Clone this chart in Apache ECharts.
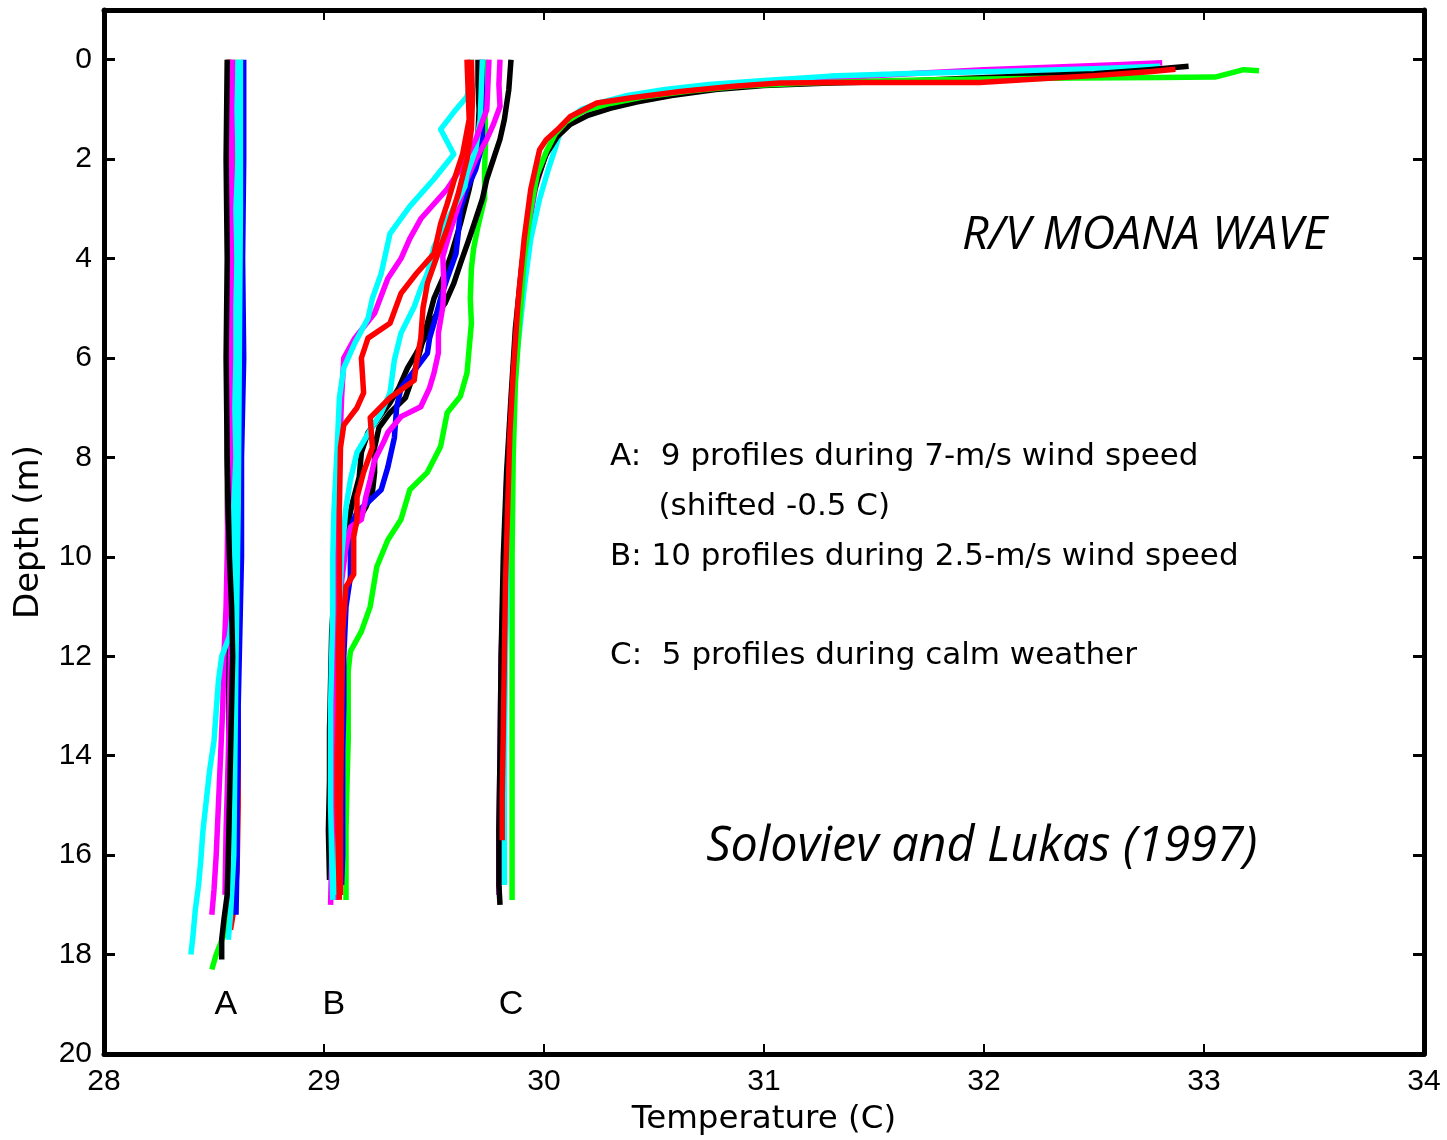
<!DOCTYPE html>
<html>
<head>
<meta charset="utf-8">
<script src="https://cdn.jsdelivr.net/npm/echarts@6/dist/echarts.min.js"></script>
<style>
html,body{margin:0;padding:0;background:#fff;}
#chart{width:1447px;height:1140px;}
</style>
</head>
<body>
<div id="chart"></div>
<script>
// ---- axis ticks ----
const xTicks = [28, 29, 30, 31, 32, 33, 34];
const yTicks = [0, 2, 4, 6, 8, 10, 12, 14, 16, 18, 20];

// ---- profile colours ----
const colors = {k: '#000000', b: '#0000ff', g: '#00ff00', r: '#ff0000', c: '#00ffff', m: '#ff00ff'};

// ---- Group A: 9 profiles, 7 m/s wind (shifted -0.5 C); [temperature, depth] ----
const A_black2 = [[28.565,0],[28.565,4],[28.56,8],[28.565,12],[28.57,15],[28.565,16.5],[28.56,17.0]];
const A_green = [[28.60,0],[28.60,4],[28.605,8],[28.60,11],[28.60,13],[28.595,15],[28.59,16.3],[28.57,17.1],[28.545,17.6],[28.51,18.0],[28.49,18.3]];
const A_red = [[28.57,0],[28.57,2],[28.565,4],[28.57,6],[28.575,8],[28.585,10],[28.60,12],[28.61,13.5],[28.61,15],[28.605,16.3],[28.59,17.1],[28.575,17.5]];
const A_blue = [[28.635,0],[28.635,2],[28.63,4],[28.635,6],[28.625,8],[28.625,10],[28.62,11],[28.615,12],[28.61,13],[28.61,14],[28.605,15],[28.605,16],[28.60,17.2]];
const A_cyan2 = [[28.62,0],[28.62,3],[28.615,6],[28.61,9],[28.60,12],[28.595,14],[28.59,16],[28.575,17.2],[28.565,17.7]];
const A_magenta2 = [[28.585,0],[28.58,4],[28.58,8],[28.575,12],[28.565,14],[28.555,15.5],[28.55,16.8]];
const A_magenta = [[28.58,0],[28.575,1],[28.58,2],[28.57,3],[28.575,4],[28.57,5],[28.57,6],[28.565,7],[28.57,8],[28.565,9],[28.56,10],[28.555,11],[28.545,12],[28.54,13],[28.53,14],[28.52,15],[28.51,16],[28.50,16.7],[28.49,17.2]];
const A_cyan = [[28.61,0],[28.605,1],[28.61,2],[28.60,3],[28.605,4],[28.60,5],[28.60,6],[28.595,7],[28.60,8],[28.59,9],[28.59,10],[28.585,11],[28.57,11.6],[28.535,12],[28.52,12.5],[28.51,13.1],[28.50,13.7],[28.48,14.3],[28.465,14.9],[28.45,15.5],[28.44,16.1],[28.43,16.6],[28.415,17.1],[28.405,17.6],[28.395,18.0]];
const A_black = [[28.56,0],[28.555,2],[28.56,4],[28.555,6],[28.56,8],[28.565,9],[28.57,10],[28.58,11],[28.585,12],[28.58,13],[28.575,14],[28.57,15],[28.565,16],[28.56,16.8],[28.545,17.3],[28.535,17.7],[28.535,18.1]];

// ---- Group B: 10 profiles, 2.5 m/s wind ----
const B_green = [[29.73,0],[29.73,0.8],[29.735,1.6],[29.73,2.2],[29.73,2.8],[29.70,3.35],[29.68,3.8],[29.67,4.2],[29.665,4.8],[29.67,5.3],[29.66,5.8],[29.65,6.3],[29.62,6.77],[29.56,7.1],[29.53,7.78],[29.47,8.3],[29.39,8.65],[29.35,9.25],[29.29,9.66],[29.24,10.2],[29.21,11.0],[29.17,11.5],[29.12,11.9],[29.11,12.3],[29.11,13],[29.11,13.7],[29.105,14.5],[29.10,15.5],[29.10,16.3],[29.10,16.9]];
const B_black1 = [[29.85,0],[29.845,0.3],[29.84,0.6],[29.83,0.9],[29.82,1.2],[29.80,1.6],[29.77,2.0],[29.74,2.4],[29.72,2.8],[29.69,3.2],[29.66,3.6],[29.62,4.1],[29.59,4.5],[29.55,4.9],[29.50,5.2],[29.47,5.5],[29.42,5.9],[29.38,6.2],[29.34,6.6],[29.30,6.9],[29.25,7.2],[29.20,7.5],[29.17,7.9],[29.16,8.4],[29.13,8.9],[29.11,9.3],[29.08,9.8],[29.05,10.5],[29.035,11.5],[29.03,12.5],[29.025,13.5],[29.025,14.5],[29.02,15.5],[29.025,16.5]];
const B_black2 = [[29.70,0],[29.70,0.5],[29.705,1.0],[29.70,1.5],[29.69,2.0],[29.66,2.6],[29.62,3.3],[29.58,3.9],[29.54,4.4],[29.50,4.8],[29.47,5.3],[29.44,5.8],[29.41,6.3],[29.37,6.8],[29.30,7.1],[29.25,7.4],[29.23,7.8],[29.23,8.3],[29.22,8.7],[29.19,9.0],[29.15,9.3],[29.10,9.8],[29.07,10.5],[29.05,11.5],[29.04,13],[29.035,14.5],[29.03,16],[29.03,16.4]];
const B_blue = [[29.72,0],[29.72,0.6],[29.72,1.2],[29.72,1.7],[29.69,2.2],[29.65,2.6],[29.62,3.0],[29.61,3.5],[29.60,3.9],[29.56,4.4],[29.53,4.8],[29.50,5.3],[29.48,5.6],[29.47,5.9],[29.42,6.2],[29.35,6.6],[29.33,7.0],[29.32,7.6],[29.29,8.2],[29.26,8.65],[29.20,8.9],[29.15,9.1],[29.13,9.3],[29.12,10.0],[29.12,10.4],[29.10,11],[29.09,12],[29.09,13],[29.085,14],[29.085,15],[29.085,16],[29.08,16.6]];
const B_magenta2 = [[29.80,0],[29.795,0.5],[29.80,0.94],[29.77,1.3],[29.74,1.6],[29.69,2.0],[29.65,2.4],[29.61,2.95],[29.57,3.5],[29.54,3.96],[29.545,4.5],[29.54,4.97],[29.52,5.5],[29.52,5.9],[29.50,6.3],[29.48,6.6],[29.44,6.98],[29.35,7.18],[29.29,7.5],[29.27,7.7],[29.23,8.05],[29.21,8.45],[29.19,8.8],[29.17,9.25],[29.12,9.4],[29.10,9.8],[29.08,10.5],[29.07,12],[29.06,14],[29.05,16],[29.05,16.9]];
const B_cyan2 = [[29.72,0],[29.715,0.6],[29.71,1.2],[29.69,1.8],[29.65,2.3],[29.64,2.55],[29.575,3.1],[29.50,3.76],[29.47,4.3],[29.44,4.6],[29.41,4.97],[29.35,5.5],[29.32,6.04],[29.30,6.7],[29.26,7.1],[29.21,7.45],[29.15,7.9],[29.12,8.45],[29.10,9],[29.08,10],[29.07,11],[29.06,12],[29.055,13],[29.05,14],[29.05,15],[29.05,16],[29.045,16.8]];
const B_magenta1 = [[29.75,0],[29.745,0.5],[29.74,1.0],[29.69,1.6],[29.62,2.2],[29.56,2.6],[29.44,3.2],[29.39,3.6],[29.35,4.0],[29.29,4.4],[29.23,5.1],[29.14,5.6],[29.09,6.0],[29.08,6.8],[29.07,8],[29.06,9],[29.055,10],[29.05,12],[29.045,13.5],[29.04,15],[29.035,16],[29.03,17.0]];
const B_cyan1 = [[29.67,0],[29.665,0.4],[29.65,0.74],[29.60,1.0],[29.53,1.4],[29.59,1.9],[29.50,2.4],[29.39,2.95],[29.30,3.5],[29.28,3.9],[29.26,4.3],[29.22,4.8],[29.20,5.2],[29.14,5.7],[29.09,6.2],[29.07,6.8],[29.06,7.8],[29.045,9.1],[29.04,10],[29.04,11.1],[29.035,12],[29.03,13],[29.03,14],[29.03,15],[29.035,16],[29.04,16.9]];
const B_red2 = [[29.67,0],[29.675,0.8],[29.67,1.4],[29.65,2.0],[29.61,2.7],[29.56,3.4],[29.51,4.0],[29.47,4.5],[29.45,5.0],[29.44,5.6],[29.42,6.1],[29.41,6.45],[29.30,6.8],[29.21,7.2],[29.22,7.8],[29.18,8.3],[29.15,8.8],[29.15,9.25],[29.135,9.6],[29.135,10.35],[29.10,10.6],[29.085,11.5],[29.08,13],[29.075,15],[29.075,16.8]];
const B_red1 = [[29.65,0],[29.655,0.6],[29.66,1.2],[29.63,1.9],[29.60,2.3],[29.56,2.9],[29.53,3.3],[29.50,3.9],[29.42,4.3],[29.35,4.7],[29.30,5.3],[29.20,5.6],[29.17,6.0],[29.18,6.7],[29.15,7.0],[29.09,7.35],[29.075,7.8],[29.07,9],[29.07,10],[29.07,11],[29.065,12],[29.065,13],[29.06,14],[29.06,15],[29.065,16],[29.07,16.9]];

// ---- Group C: 5 profiles, calm weather ----
const C_magenta = [[32.81,0.06],[32.6,0.1],[32.3,0.15],[32.0,0.2],[31.7,0.27],[31.4,0.35],[31.1,0.44],[30.85,0.53],[30.62,0.63],[30.42,0.76],[30.28,0.9],[30.17,1.05],[30.09,1.3],[30.04,1.6],[30.0,2.0],[29.96,2.6],[29.93,3.4],[29.90,4.4],[29.87,5.6],[29.85,7],[29.83,8.5],[29.82,10],[29.805,12],[29.80,14],[29.795,15.5],[29.795,16.8]];
const C_cyan = [[32.80,0.13],[32.5,0.18],[32.1,0.23],[31.7,0.27],[31.3,0.33],[31.0,0.42],[30.75,0.5],[30.55,0.6],[30.38,0.72],[30.26,0.86],[30.17,1.0],[30.11,1.2],[30.07,1.5],[30.05,1.8],[30.02,2.2],[29.98,2.8],[29.94,3.6],[29.91,4.6],[29.88,5.8],[29.86,7],[29.845,8.5],[29.835,10],[29.825,12],[29.82,14],[29.82,15.5],[29.82,16.6]];
const C_black = [[32.93,0.13],[32.75,0.2],[32.5,0.28],[32.2,0.33],[31.9,0.38],[31.6,0.44],[31.3,0.47],[31.0,0.52],[30.78,0.6],[30.58,0.72],[30.42,0.85],[30.3,0.98],[30.2,1.12],[30.12,1.3],[30.06,1.55],[30.01,1.9],[29.97,2.4],[29.93,3.1],[29.90,4.1],[29.87,5.4],[29.85,6.8],[29.83,8.3],[29.815,10],[29.805,12],[29.80,14],[29.795,15.5],[29.795,16.6],[29.80,17.0]];
const C_green = [[33.25,0.22],[33.18,0.2],[33.12,0.27],[33.05,0.35],[32.8,0.36],[32.4,0.37],[32.0,0.39],[31.6,0.42],[31.2,0.47],[30.9,0.53],[30.66,0.63],[30.45,0.75],[30.3,0.88],[30.18,1.03],[30.1,1.25],[30.05,1.5],[30.01,1.85],[29.97,2.3],[29.94,3.0],[29.91,4.0],[29.89,5.2],[29.87,6.5],[29.86,8],[29.855,10],[29.855,12],[29.855,14],[29.855,15.5],[29.855,16.9]];
const C_red = [[32.87,0.19],[32.75,0.24],[32.5,0.32],[32.2,0.4],[31.98,0.46],[31.7,0.46],[31.37,0.46],[31.07,0.47],[30.85,0.54],[30.62,0.64],[30.39,0.77],[30.24,0.87],[30.12,1.14],[30.06,1.41],[30.01,1.61],[29.98,1.81],[29.96,2.2],[29.94,2.6],[29.91,3.6],[29.89,4.5],[29.88,5.0],[29.86,6.3],[29.845,7.5],[29.835,9],[29.825,10.5],[29.82,12],[29.815,13.5],[29.81,14.8],[29.81,15.7]];

// ---- text annotations: [temperature, depth, text] ----
const groupLetters = [[28.554, 19.0, 'A'], [29.045, 19.0, 'B'], [29.85, 19.0, 'C']];
const noteLines = [
  [30.30, 8.0, 'A:  9 profiles during 7-m/s wind speed'],
  [30.52, 9.0, '(shifted -0.5 C)'],
  [30.30, 10.0, 'B: 10 profiles during 2.5-m/s wind speed'],
  [30.30, 12.0, 'C:  5 profiles during calm weather']
];
const shipLabel = [32.73, 3.55, 'R/V MOANA WAVE'];
const sourceLabel = [31.99, 15.85, 'Soloviev and Lukas (1997)'];

const profiles = [
  [A_black2,'k'],[A_green,'g'],[A_red,'r'],[A_blue,'b'],[A_cyan2,'c'],[A_magenta2,'m'],[A_magenta,'m'],[A_cyan,'c'],[A_black,'k'],
  [B_green,'g'],[B_black1,'k'],[B_black2,'k'],[B_blue,'b'],[B_magenta2,'m'],[B_cyan2,'c'],[B_magenta1,'m'],[B_cyan1,'c'],[B_red2,'r'],[B_red1,'r'],
  [C_magenta,'m'],[C_cyan,'c'],[C_black,'k'],[C_green,'g'],[C_red,'r']
];

const chart = echarts.init(document.getElementById('chart'), null, {renderer: 'canvas'});

const series = profiles.map(([d, c]) => ({
  type: 'line', data: d, showSymbol: false, symbol: 'none', smooth: false,
  lineStyle: {color: colors[c], width: 5.5, join: 'round'}, animation: false, silent: true
}));

function textSeries(items, font, size, style, pos) {
  return {
    type: 'scatter', symbolSize: 0, silent: true, animation: false,
    itemStyle: {opacity: 1},
    data: items.map(t => ({value: [t[0], t[1]], name: t[2]})),
    label: {show: true, position: pos, distance: 0, formatter: p => p.name, opacity: 1,
      fontFamily: font, fontSize: size, fontStyle: style, color: '#000'}
  };
}
series.push(textSeries(groupLetters, 'Liberation Sans', 34, 'normal', 'inside'));
series.push(textSeries(noteLines, 'DejaVu Sans', 31, 'normal', 'right'));
series.push(textSeries([shipLabel], 'Open Sans', 46.5, 'italic', 'inside'));
series.push(textSeries([sourceLabel], 'Open Sans', 48.5, 'italic', 'inside'));

const tickFont = {fontFamily: 'Liberation Sans', fontSize: 30, color: '#000'};

chart.setOption({
  backgroundColor: '#fff',
  animation: false,
  grid: {left: 104, right: 23, top: 10, bottom: 86, containLabel: false, outerBoundsMode: 'none'},
  xAxis: [
    {type: 'value', position: 'bottom', min: 28, max: 34, interval: 1,
     axisLine: {show: true, onZero: false, lineStyle: {color: '#000', width: 5}},
     axisTick: {show: true, inside: true, length: 10, lineStyle: {color: '#000', width: 2}},
     axisLabel: Object.assign({margin: 13, formatter: v => xTicks.includes(v) ? String(v) : ''}, tickFont),
     splitLine: {show: false},
     name: 'Temperature (C)', nameLocation: 'middle', nameGap: 49,
     nameTextStyle: {fontFamily: 'DejaVu Sans', fontSize: 32.5, color: '#000'}},
    {type: 'value', position: 'top', min: 28, max: 34, interval: 1,
     axisLine: {show: true, onZero: false, lineStyle: {color: '#000', width: 5}},
     axisTick: {show: true, inside: true, length: 10, lineStyle: {color: '#000', width: 2}},
     axisLabel: {show: false}, splitLine: {show: false}}
  ],
  yAxis: [
    {type: 'value', position: 'left', inverse: true, min: -1, max: 20,
     axisLine: {show: true, onZero: false, lineStyle: {color: '#000', width: 5}},
     axisTick: {show: true, inside: true, length: 11, customValues: yTicks, lineStyle: {color: '#000', width: 3}},
     axisLabel: Object.assign({margin: 12, customValues: yTicks}, tickFont),
     splitLine: {show: false},
     name: 'Depth (m)', nameLocation: 'middle', nameGap: 58, nameRotate: 90,
     nameTextStyle: {fontFamily: 'DejaVu Sans', fontSize: 34, color: '#000'}},
    {type: 'value', position: 'right', inverse: true, min: -1, max: 20,
     axisLine: {show: true, onZero: false, lineStyle: {color: '#000', width: 5}},
     axisTick: {show: true, inside: true, length: 11, customValues: yTicks, lineStyle: {color: '#000', width: 3}},
     axisLabel: {show: false}, splitLine: {show: false}}
  ],
  series: series
});
</script>
</body>
</html>
